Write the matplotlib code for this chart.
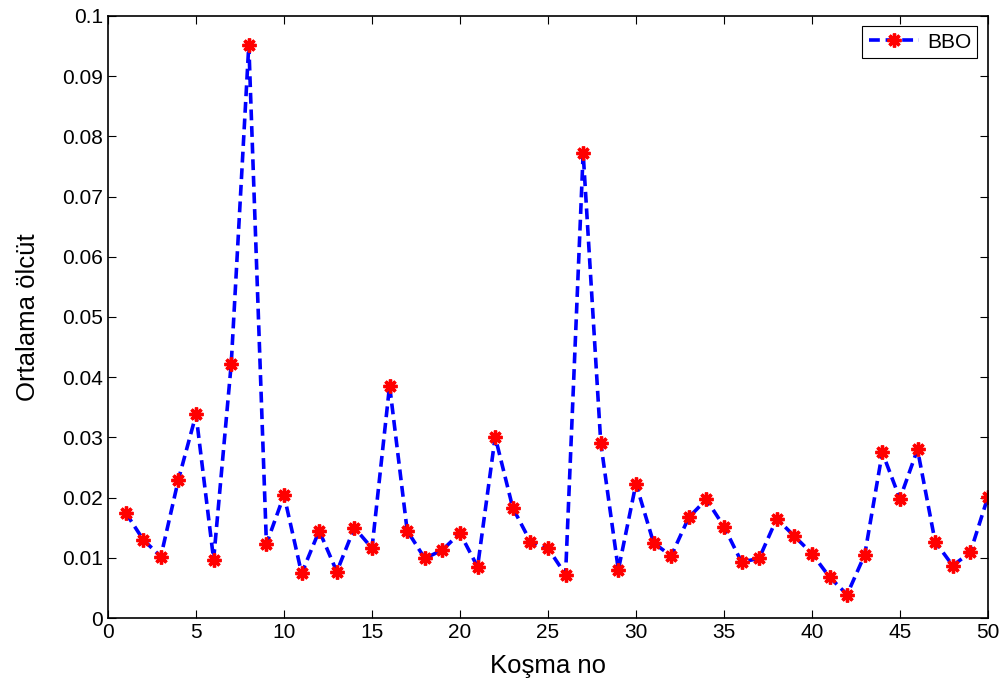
import numpy as np
import matplotlib.pyplot as plt

plt.rcParams['font.family'] = ['Liberation Sans', 'DejaVu Sans']

runs = np.arange(1, 51)
bbo = [0.0175, 0.0130, 0.0102, 0.0230, 0.0338, 0.0097, 0.0422, 0.0952, 0.0123, 0.0204,
       0.0074, 0.0145, 0.0077, 0.0150, 0.0116, 0.0386, 0.0145, 0.0099, 0.0113, 0.0141,
       0.0085, 0.0301, 0.0183, 0.0127, 0.0116, 0.0072, 0.0772, 0.0291, 0.0080, 0.0223,
       0.0125, 0.0103, 0.0167, 0.0197, 0.0152, 0.0093, 0.0099, 0.0165, 0.0136, 0.0107,
       0.0068, 0.0039, 0.0105, 0.0275, 0.0198, 0.0280, 0.0127, 0.0087, 0.0109, 0.0201]

fig = plt.figure(figsize=(10.06, 6.89), dpi=100)
ax = fig.add_axes([0.1074, 0.103, 0.8746, 0.874])

ax.plot(runs, bbo, color='blue', linestyle='--', linewidth=2.6, dashes=(3, 1.6),
        marker=(8, 2, 0), markersize=10, markeredgewidth=2.4,
        markeredgecolor='red', markerfacecolor='red', label='BBO')

ax.set_xlim(0, 50)
ax.set_ylim(0, 0.1)
ax.set_xticks(np.arange(0, 51, 5))
ax.set_yticks(np.arange(0, 0.101, 0.01))
ax.set_yticklabels(['0', '0.01', '0.02', '0.03', '0.04', '0.05', '0.06',
                    '0.07', '0.08', '0.09', '0.1'])
ax.tick_params(direction='in', top=True, right=True, labelsize=15, length=6, width=0.8)
for s in ax.spines.values():
    s.set_linewidth(1.2)

ax.set_xlabel('Koşma no', fontsize=18.5, labelpad=9)
ax.set_ylabel('Ortalama ölcüt', fontsize=18.5, labelpad=16)

leg = ax.legend(loc='upper right', fontsize=15, fancybox=False, framealpha=1,
                edgecolor='black', handlelength=2.4, borderpad=0.3,
                handletextpad=0.4, borderaxespad=0.5)
leg.get_frame().set_linewidth(0.8)

fig.savefig('out.png', dpi=100)
